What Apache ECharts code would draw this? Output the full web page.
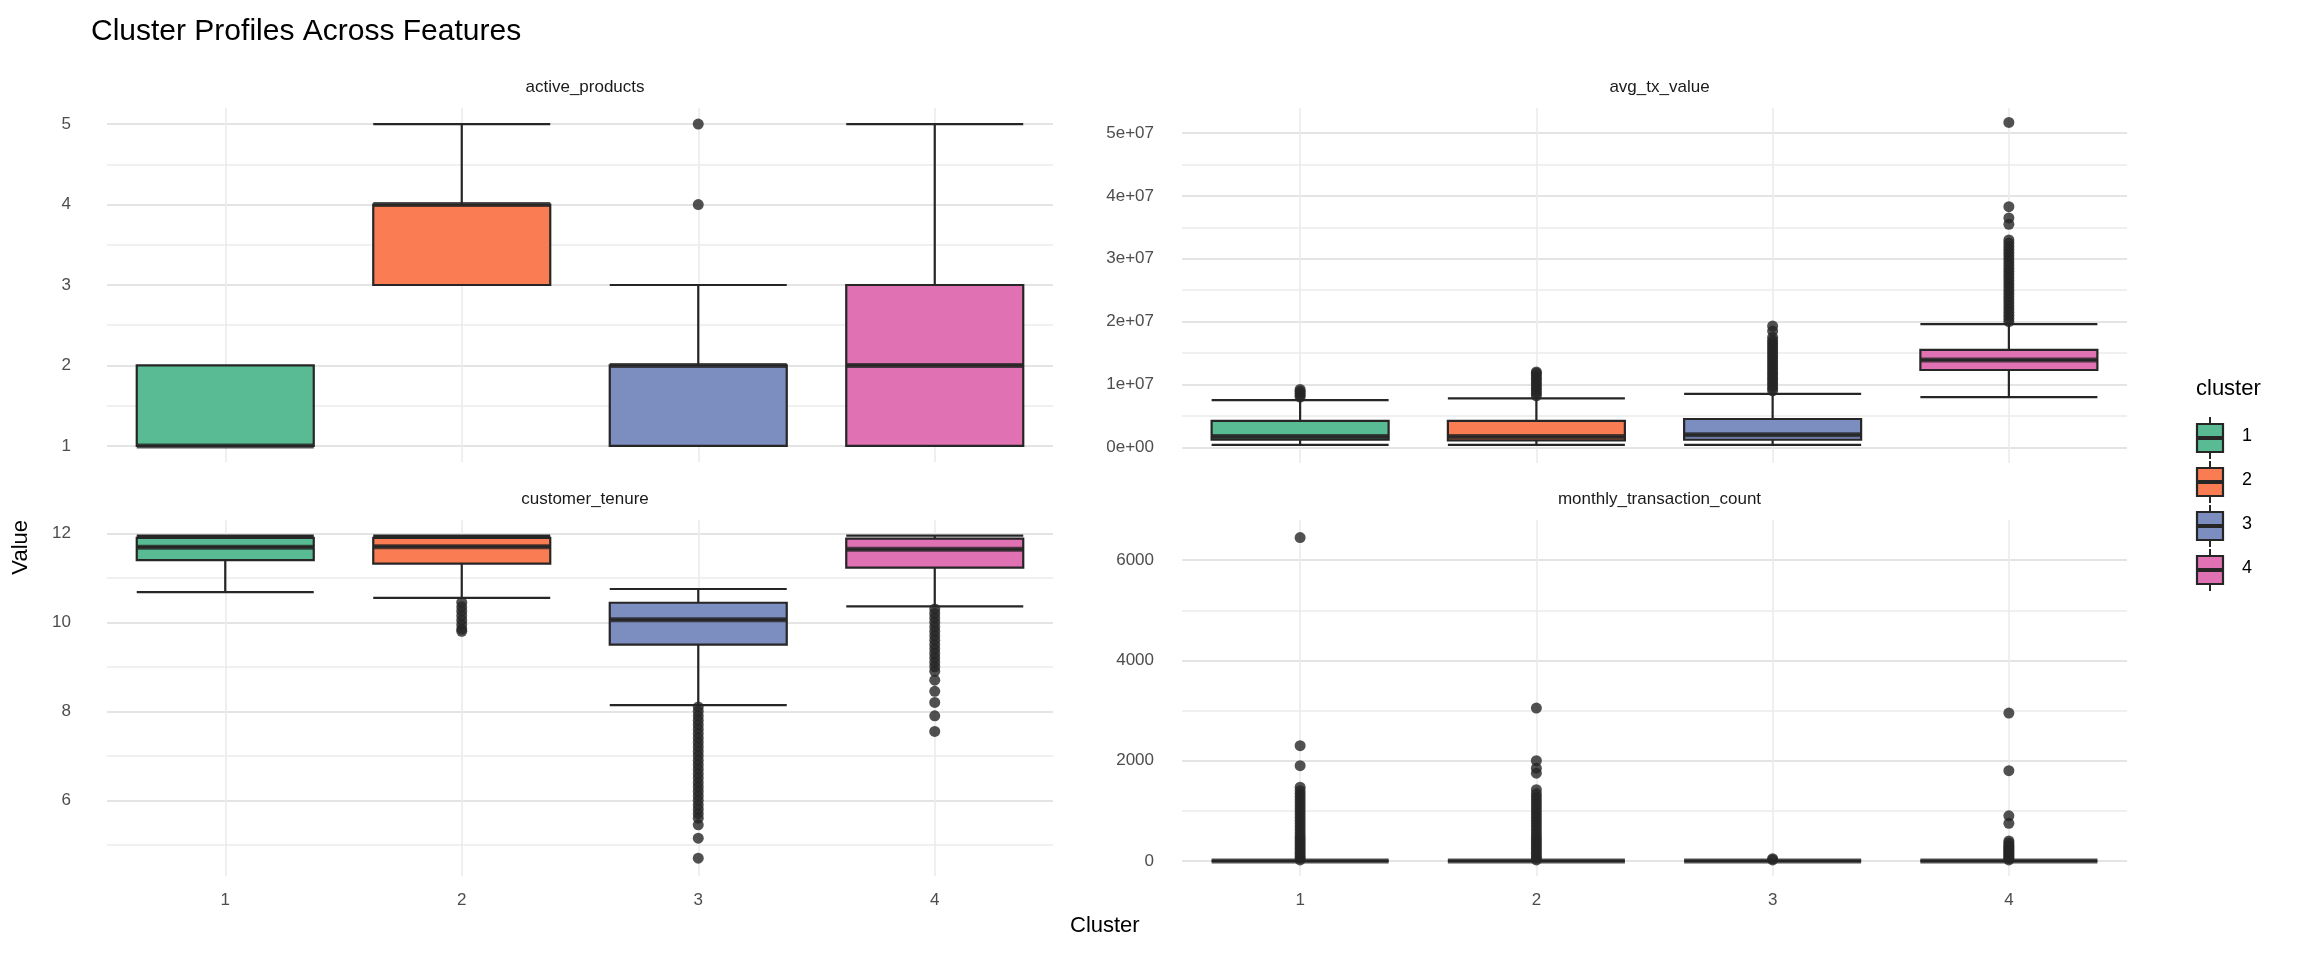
<!DOCTYPE html>
<html lang="en" style="height: 100%">
<head>
  <meta charset="utf-8">
  <style>
    body { margin: 0; background: #ffffff; font-family: 'Liberation Sans', Arial, sans-serif; }
  </style>
</head>
<body style="height: 100%; margin: 0">
  <div id="container" style="width: 2304px; height: 960px"></div>

  <script type="text/javascript" src="https://cdn.jsdelivr.net/npm/echarts@6/dist/echarts.min.js"></script>

  <script type="text/javascript">
    var clusters = ['1', '2', '3', '4'];
    var clusterColors = ['#59BB93', '#F97C52', '#7C8DBF', '#E072B4'];
    var panelTitles = ['active_products', 'avg_tx_value', 'customer_tenure', 'monthly_transaction_count'];

    // box stats per cluster: [low whisker, q1, median, q3, high whisker]
    var activeBox = [[1, 1, 1, 2, 2], [3, 3, 4, 4, 5], [1, 1, 2, 2, 3], [1, 1, 2, 3, 5]];
    var activeOut = [[], [], [4, 5], []];

    var avgTxBox = [
      [0.4e6, 1.2e6, 1.7e6, 4.2e6, 7.5e6],
      [0.4e6, 1.1e6, 1.7e6, 4.2e6, 7.8e6],
      [0.4e6, 1.2e6, 2.0e6, 4.5e6, 8.5e6],
      [8.0e6, 12.3e6, 13.9e6, 15.5e6, 19.6e6]
    ];
    var avgTxOut = [
      [8.0e6, 8.3e6, 8.6e6, 8.9e6, 9.2e6],
      [8.2e6, 8.6e6, 9.0e6, 9.4e6, 9.8e6, 10.2e6, 10.6e6, 11.0e6, 11.4e6, 11.8e6, 12.0e6],
      [9.0e6, 9.4e6, 9.8e6, 10.2e6, 10.6e6, 11.0e6, 11.4e6, 11.8e6, 12.2e6, 12.6e6, 13.0e6, 13.4e6,
       13.8e6, 14.2e6, 14.6e6, 15.0e6, 15.4e6, 15.8e6, 16.2e6, 16.6e6, 17.0e6, 17.5e6, 18.5e6, 19.3e6],
      [20.0e6, 20.5e6, 21.0e6, 21.5e6, 22.0e6, 22.5e6, 23.0e6, 23.5e6, 24.0e6, 24.5e6, 25.0e6, 25.5e6,
       26.0e6, 26.5e6, 27.0e6, 27.5e6, 28.0e6, 28.5e6, 29.0e6, 29.5e6, 30.0e6, 30.5e6, 31.0e6, 31.5e6,
       32.0e6, 32.5e6, 33.0e6, 35.5e6, 36.5e6, 38.3e6, 51.7e6]
    ];

    var tenureBox = [
      [10.68, 11.4, 11.69, 11.9, 11.95],
      [10.55, 11.32, 11.7, 11.9, 11.95],
      [8.14, 9.5, 10.06, 10.44, 10.75],
      [10.36, 11.23, 11.64, 11.88, 11.95]
    ];
    var tenureOut = [
      [],
      [10.45, 10.35, 10.25, 10.15, 10.05, 9.95, 9.85, 9.8],
      [8.1, 8.0, 7.9, 7.8, 7.7, 7.6, 7.5, 7.4, 7.3, 7.2, 7.1, 7.0, 6.9, 6.8, 6.7, 6.6, 6.5, 6.4, 6.3,
       6.2, 6.1, 6.0, 5.9, 5.8, 5.7, 5.6, 5.45, 5.15, 4.7],
      [10.3, 10.2, 10.1, 10.0, 9.9, 9.8, 9.7, 9.6, 9.5, 9.4, 9.3, 9.2, 9.1, 9.0, 8.9, 8.7, 8.45, 8.2, 7.9, 7.55]
    ];

    var monthlyBox = [[0, 0, 0, 0, 0], [0, 0, 0, 0, 0], [0, 0, 0, 0, 0], [0, 0, 0, 0, 0]];
    var monthlyOut = [
      [20, 60, 100, 150, 200, 250, 300, 350, 400, 450, 500, 560, 620, 680, 740, 800, 860, 920, 980,
       1040, 1100, 1160, 1220, 1280, 1340, 1400, 1470, 1900, 2300, 6450],
      [20, 60, 100, 150, 200, 250, 300, 350, 400, 450, 500, 560, 620, 680, 740, 800, 860, 920, 980,
       1040, 1100, 1160, 1220, 1280, 1340, 1420, 1750, 1850, 2000, 3050],
      [20, 45],
      [20, 50, 80, 110, 140, 170, 200, 230, 260, 290, 320, 360, 400, 750, 900, 1800, 2950]
    ];

    var boxes = [activeBox, avgTxBox, tenureBox, monthlyBox];
    var outs = [activeOut, avgTxOut, tenureOut, monthlyOut];

    // y scale setup: min, max, step, index of first major/minor line, period
    var yScales = [
      { min: 0.8, max: 5.2, step: 0.1, major: 2, minor: 7, period: 10, fmt: function (v) { return Math.abs(v - Math.round(v)) < 1e-6 ? String(Math.round(v)) : ''; } },
      { min: -2.5e6, max: 5.4e7, step: 5e5, major: 5, minor: 15, period: 20, fmt: function (v) { var k = Math.round(v / 1e7); return Math.abs(v - k * 1e7) < 1 ? (k === 0 ? '0e+00' : k + 'e+07') : ''; } },
      { min: 4.3, max: 12.3, step: 0.1, major: 17, minor: 7, period: 20, fmt: function (v) { var k = Math.round(v); return (Math.abs(v - k) < 1e-6 && k % 2 === 0) ? String(k) : ''; } },
      { min: -300, max: 6800, step: 100, major: 3, minor: 13, period: 20, fmt: function (v) { return (Math.round(v) % 2000 === 0) ? String(Math.round(v)) : ''; } }
    ];

    var grids = [
      { left: 107, top: 108, width: 946, height: 354 },
      { left: 1182, top: 108, width: 945, height: 355 },
      { left: 107, top: 520, width: 946, height: 356 },
      { left: 1182, top: 520, width: 945, height: 356 }
    ];

    function lineColors(s) {
      var c = [];
      for (var i = 0; i < s.period; i++) {
        c.push(i === s.major ? '#e4e4e4' : (i === s.minor ? '#f0f0f0' : 'rgba(0,0,0,0)'));
      }
      return c;
    }

    var xAxes = [], yAxes = [], series = [], titles = [];
    for (var p = 0; p < 4; p++) {
      var s = yScales[p];
      xAxes.push({
        type: 'category', gridIndex: p, data: clusters, boundaryGap: true,
        axisLine: { show: false }, axisTick: { show: false },
        axisLabel: { show: p >= 2, color: '#4d4d4d', fontSize: 17, margin: 16 },
        splitLine: { show: true, alignWithLabel: true, lineStyle: { color: '#ebebeb', width: 1.6 } }
      });
      yAxes.push({
        type: 'value', gridIndex: p, min: s.min, max: s.max, interval: s.step,
        axisLine: { show: false }, axisTick: { show: false },
        axisLabel: { color: '#4d4d4d', fontSize: 17, margin: p % 2 ? 28 : 36, formatter: s.fmt },
        splitLine: { show: true, lineStyle: { color: lineColors(s), width: 1.8 } }
      });
      series.push({
        type: 'boxplot', xAxisIndex: p, yAxisIndex: p, boxWidth: [177, 177],
        data: boxes[p].map(function (b, i) {
          return { value: b, itemStyle: { color: clusterColors[i], borderColor: '#262626', borderWidth: 2.2 } };
        }),
        animation: false, z: 2
      });
      var outData = [];
      outs[p].forEach(function (arr, i) { arr.forEach(function (v) { outData.push([i, v]); }); });
      series.push({
        type: 'scatter', xAxisIndex: p, yAxisIndex: p, data: outData, symbolSize: 11,
        itemStyle: { color: '#262626' }, animation: false, z: 3, silent: true
      });
      series.push({
        type: 'scatter', xAxisIndex: p, yAxisIndex: p, symbol: 'rect', symbolSize: [177, 5],
        data: boxes[p].map(function (b, i) { return [i, b[2]]; }),
        itemStyle: { color: '#262626' }, animation: false, z: 4, silent: true
      });
      titles.push({
        text: panelTitles[p], left: grids[p].left + grids[p].width / 2, top: grids[p].top - 34,
        textAlign: 'center', textStyle: { fontSize: 17, fontWeight: 'normal', color: '#1a1a1a' }
      });
    }
    titles.push({ text: 'Cluster Profiles Across Features', left: 86, top: 12, textStyle: { fontSize: 30, fontWeight: 'normal', color: '#000' } });

    // legend drawn as boxplot keys
    var legendEls = [{ type: 'text', left: 2196, top: 378, style: { text: 'cluster', fontSize: 22, fill: '#000' } }];
    clusters.forEach(function (c, i) {
      var y = 438 + i * 44;
      legendEls.push({ type: 'line', shape: { x1: 2210, y1: y - 21, x2: 2210, y2: y + 21 }, style: { stroke: '#262626', lineWidth: 2 } });
      legendEls.push({ type: 'rect', shape: { x: 2197, y: y - 14, width: 26, height: 28 }, style: { fill: clusterColors[i], stroke: '#262626', lineWidth: 2.2 } });
      legendEls.push({ type: 'line', shape: { x1: 2197, y1: y, x2: 2223, y2: y }, style: { stroke: '#262626', lineWidth: 4 } });
      legendEls.push({ type: 'text', left: 2242, top: y - 11, style: { text: c, fontSize: 18, fill: '#000' } });
    });
    legendEls.push({ type: 'text', left: 1070, top: 915, style: { text: 'Cluster', fontSize: 22, fill: '#000' } });
    legendEls.push({ type: 'text', left: 10, top: 520, rotation: Math.PI / 2, style: { text: 'Value', fontSize: 22, fill: '#000' } });

    var myChart = echarts.init(document.getElementById('container'), null, { renderer: 'canvas' });
    myChart.setOption({
      backgroundColor: '#ffffff',
      textStyle: { fontFamily: 'Liberation Sans' },
      title: titles,
      grid: grids,
      xAxis: xAxes,
      yAxis: yAxes,
      series: series,
      graphic: legendEls
    });
  </script>
</body>
</html>
